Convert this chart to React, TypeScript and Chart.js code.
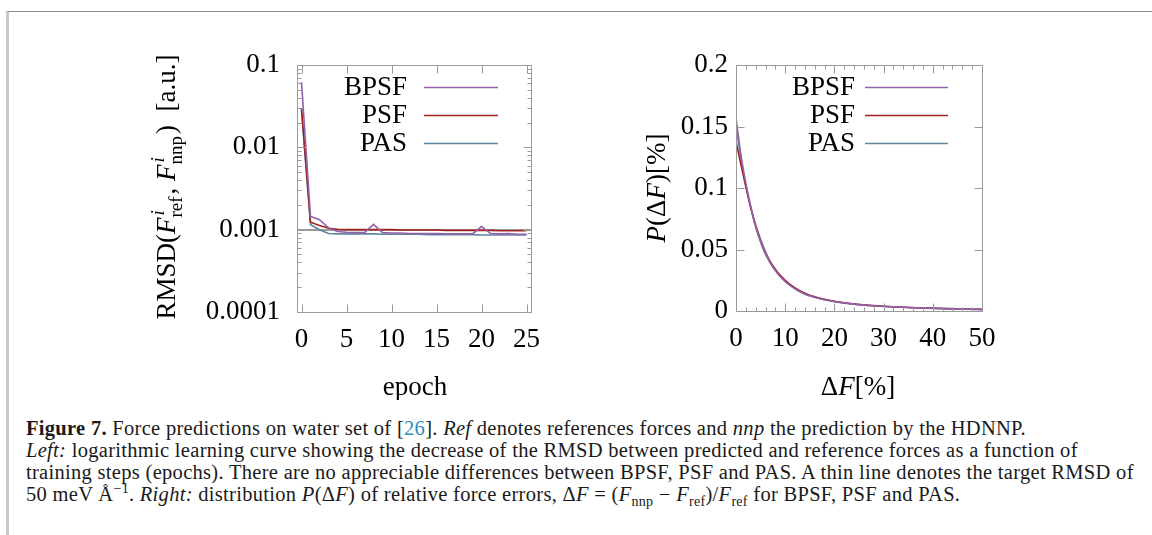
import React, { useEffect, useRef } from 'react';
import { Chart, registerables } from 'chart.js';

Chart.register(...registerables);

// ---------- Data: left panel (learning curve) ----------
const EPOCHS = [0, 1, 2, 3, 4, 5, 6, 7, 8, 9, 10, 11, 12, 13, 14, 15, 16, 17, 18, 19, 20, 21, 22, 23, 24, 25];
const BPSF_RMSD = [0.062, 0.00145, 0.00132, 0.00105, 0.00095, 0.00093, 0.00092, 0.00092, 0.00116, 0.00092, 0.00091, 0.00091, 0.0009, 0.0009, 0.0009, 0.0009, 0.00089, 0.00089, 0.00089, 0.00089, 0.00109, 0.0009, 0.00089, 0.0009, 0.00088, 0.00088];
const PSF_RMSD = [0.03, 0.00123, 0.00112, 0.00104, 0.00101, 0.001, 0.001, 0.001, 0.001, 0.001, 0.001, 0.00099, 0.00099, 0.00099, 0.00099, 0.00099, 0.00098, 0.00098, 0.00098, 0.00098, 0.00098, 0.00098, 0.00097, 0.00097, 0.00097, 0.00097];
const PAS_RMSD = [0.028, 0.00115, 0.001, 0.0009, 0.00089, 0.00089, 0.00089, 0.00089, 0.00089, 0.00088, 0.00088, 0.00088, 0.00088, 0.00088, 0.00087, 0.00087, 0.00087, 0.00087, 0.00087, 0.00087, 0.00086, 0.00086, 0.00086, 0.00086, 0.00086, 0.00086];
const TARGET_RMSD = 0.001;
const LEFT_X_TICKS = [0, 5, 10, 15, 20, 25];
const LEFT_Y_TICKS = [0.0001, 0.001, 0.01, 0.1];
const LEFT_Y_TICK_LABELS = ['0.0001', '0.001', '0.01', '0.1'];

// ---------- Data: right panel (error distribution) ----------
const DF_X = [0, 1, 2, 3, 4, 5, 6, 7, 8, 9, 10, 12, 14, 16, 18, 20, 22, 25, 28, 30, 35, 40, 45, 50];
const BPSF_P = [0.157, 0.127, 0.104, 0.085, 0.069, 0.057, 0.047, 0.039, 0.033, 0.028, 0.024, 0.018, 0.0138, 0.0112, 0.0092, 0.0077, 0.0065, 0.0052, 0.0043, 0.0038, 0.0029, 0.0022, 0.0017, 0.0013];
const PSF_P = [0.138, 0.119, 0.101, 0.084, 0.07, 0.058, 0.048, 0.04, 0.034, 0.029, 0.025, 0.0188, 0.0145, 0.0116, 0.0095, 0.0079, 0.0067, 0.0053, 0.0044, 0.0038, 0.0029, 0.0022, 0.0017, 0.0013];
const PAS_P = [0.151, 0.124, 0.102, 0.084, 0.068, 0.056, 0.046, 0.039, 0.033, 0.028, 0.024, 0.018, 0.0137, 0.0111, 0.0091, 0.0076, 0.0064, 0.0051, 0.0042, 0.0037, 0.0028, 0.0021, 0.0016, 0.0012];
const RIGHT_X_TICKS = [0, 10, 20, 30, 40, 50];
const RIGHT_Y_TICKS = [0, 0.05, 0.1, 0.15, 0.2];
const RIGHT_Y_TICK_LABELS = ['0', '0.05', '0.1', '0.15', '0.2'];

const SERIES_LABELS = ['BPSF', 'PSF', 'PAS'];
const SERIES_COLORS = ['#9560ab', '#a3201f', '#5d879f'];

const FONT = '"Liberation Serif", "Times New Roman", serif';
const FS = 27;
const FRAME = '#9a9a9a';

type Run = { t?: string; it?: boolean; sup?: string; sub?: string; supIt?: boolean };

function drawRuns(ctx: CanvasRenderingContext2D, runs: Run[], cx: number, cy: number, size: number, rot: number) {
  const ss = Math.round(size * 0.7);
  const fm = (it?: boolean) => `${it ? 'italic ' : ''}${size}px ${FONT}`;
  const fs = (it?: boolean) => `${it ? 'italic ' : ''}${ss}px ${FONT}`;
  const widths = runs.map((r) => {
    if (r.t !== undefined) {
      ctx.font = fm(r.it);
      return ctx.measureText(r.t).width;
    }
    ctx.font = fs(r.supIt);
    const a = r.sup ? ctx.measureText(r.sup).width : 0;
    ctx.font = fs(false);
    const b = r.sub ? ctx.measureText(r.sub).width : 0;
    return Math.max(a, b) + 2;
  });
  const total = widths.reduce((a, b) => a + b, 0);
  ctx.save();
  ctx.translate(cx, cy);
  ctx.rotate(rot);
  ctx.fillStyle = '#000';
  ctx.textBaseline = 'alphabetic';
  ctx.textAlign = 'left';
  let x = -total / 2;
  const base = size * 0.33;
  runs.forEach((r, i) => {
    if (r.t !== undefined) {
      ctx.font = fm(r.it);
      ctx.fillText(r.t, x, base);
    } else {
      if (r.sup) {
        ctx.font = fs(r.supIt);
        ctx.fillText(r.sup, x + 2, base - size * 0.42);
      }
      if (r.sub) {
        ctx.font = fs(false);
        ctx.fillText(r.sub, x, base + size * 0.26);
      }
    }
    x += widths[i];
  });
  ctx.restore();
}

type PanelCfg = {
  xMajor: number[];
  xMinorStep: number | null;
  yMajor: number[];
  yLogMinor: boolean;
  target: number | null;
  legendTextRight: number;
  legendLineX: [number, number];
  legendRows: number[];
  xTitle: Run[];
  xTitlePos: [number, number];
  yTitle: Run[];
  yTitlePos: [number, number];
};

function makePanelPlugin(cfg: PanelCfg) {
  return {
    id: 'panelDecor',
    beforeDatasetsDraw(chart: any) {
      if (cfg.target === null) return;
      const { ctx, chartArea } = chart;
      const y = Math.round(chart.scales.y.getPixelForValue(cfg.target));
      ctx.save();
      ctx.strokeStyle = '#9a9a9a';
      ctx.lineWidth = 2;
      ctx.beginPath();
      ctx.moveTo(chartArea.left, y);
      ctx.lineTo(chartArea.right, y);
      ctx.stroke();
      ctx.restore();
    },
    afterDatasetsDraw(chart: any) {
      const { ctx, chartArea } = chart;
      const { left, right, top, bottom } = chartArea;
      const xs = chart.scales.x;
      const ys = chart.scales.y;
      ctx.save();
      ctx.strokeStyle = FRAME;
      ctx.lineWidth = 1;
      const L = Math.round(left) + 0.5;
      const R = Math.round(right) + 0.5;
      const T = Math.round(top) + 0.5;
      const B = Math.round(bottom) + 0.5;
      ctx.beginPath();
      ctx.rect(L, T, R - L, B - T);
      ctx.stroke();
      const xTick = (v: number, len: number) => {
        const p = Math.round(xs.getPixelForValue(v)) + 0.5;
        ctx.moveTo(p, B);
        ctx.lineTo(p, B - len);
        ctx.moveTo(p, T);
        ctx.lineTo(p, T + len);
      };
      const yTick = (v: number, len: number) => {
        const p = Math.round(ys.getPixelForValue(v)) + 0.5;
        ctx.moveTo(L, p);
        ctx.lineTo(L + len, p);
        ctx.moveTo(R, p);
        ctx.lineTo(R - len, p);
      };
      ctx.beginPath();
      cfg.xMajor.forEach((v) => xTick(v, 8));
      if (cfg.xMinorStep) {
        const a = cfg.xMajor[0];
        const b = cfg.xMajor[cfg.xMajor.length - 1];
        for (let v = a; v <= b + 1e-9; v += cfg.xMinorStep) {
          if (!cfg.xMajor.includes(v)) xTick(v, 4);
        }
      }
      cfg.yMajor.forEach((v) => yTick(v, 8));
      if (cfg.yLogMinor) {
        for (let i = 0; i < cfg.yMajor.length - 1; i++) {
          for (let m = 2; m <= 9; m++) yTick(cfg.yMajor[i] * m, 4);
        }
      }
      ctx.stroke();
      ctx.restore();

      // legend
      const metas = chart.data.datasets;
      ctx.save();
      ctx.font = `${FS}px ${FONT}`;
      ctx.textAlign = 'right';
      ctx.textBaseline = 'middle';
      metas.forEach((ds: any, i: number) => {
        const y = cfg.legendRows[i];
        ctx.fillStyle = '#000';
        ctx.fillText(ds.label, cfg.legendTextRight, y + 1);
        ctx.strokeStyle = ds.borderColor;
        ctx.lineWidth = 1.5;
        ctx.beginPath();
        ctx.moveTo(cfg.legendLineX[0], y + 0.5);
        ctx.lineTo(cfg.legendLineX[1], y + 0.5);
        ctx.stroke();
      });
      ctx.restore();

      drawRuns(ctx, cfg.xTitle, cfg.xTitlePos[0], cfg.xTitlePos[1], FS, 0);
      drawRuns(ctx, cfg.yTitle, cfg.yTitlePos[0], cfg.yTitlePos[1], FS, -Math.PI / 2);
    },
  };
}

const CW = 576;
const CH = 400;

function LeftPanel() {
  const ref = useRef<HTMLCanvasElement | null>(null);
  useEffect(() => {
    if (!ref.current) return;
    const series = [BPSF_RMSD, PSF_RMSD, PAS_RMSD];
    const chart = new Chart(ref.current, {
      type: 'line',
      data: {
        datasets: series.map((s, i) => ({
          label: SERIES_LABELS[i],
          data: EPOCHS.map((e, j) => ({ x: e, y: s[j] })),
          borderColor: SERIES_COLORS[i],
          borderWidth: 1.6,
          pointRadius: 0,
          fill: false,
          tension: 0,
        })),
      },
      options: {
        animation: false,
        responsive: false,
        maintainAspectRatio: false,
        layout: { padding: { top: 65, right: CW - 531, left: 0, bottom: 0 } },
        plugins: { legend: { display: false }, tooltip: { enabled: false } },
        scales: {
          x: {
            type: 'linear',
            min: -0.5,
            max: 25.5,
            grid: { display: false, drawTicks: false },
            border: { display: false },
            afterBuildTicks: (s: any) => {
              s.ticks = LEFT_X_TICKS.map((v) => ({ value: v }));
            },
            afterFit: (s: any) => {
              s.height = CH - 312;
            },
            ticks: {
              autoSkip: false,
              maxRotation: 0,
              padding: 12,
              color: '#000',
              font: { family: FONT, size: FS },
              callback: (v: any) => String(v),
            },
          },
          y: {
            type: 'logarithmic',
            min: 0.0001,
            max: 0.1,
            grid: { display: false, drawTicks: false },
            border: { display: false },
            afterBuildTicks: (s: any) => {
              s.ticks = LEFT_Y_TICKS.map((v) => ({ value: v }));
            },
            afterFit: (s: any) => {
              s.width = 297;
            },
            ticks: {
              autoSkip: false,
              padding: 17,
              color: '#000',
              font: { family: FONT, size: FS },
              callback: (_v: any, i: number) => LEFT_Y_TICK_LABELS[i],
            },
          },
        },
      },
      plugins: [
        makePanelPlugin({
          xMajor: LEFT_X_TICKS,
          xMinorStep: null,
          yMajor: LEFT_Y_TICKS,
          yLogMinor: true,
          target: TARGET_RMSD,
          legendTextRight: 407,
          legendLineX: [424, 498],
          legendRows: [87, 115, 143],
          xTitle: [{ t: 'epoch' }],
          xTitlePos: [415, 386],
          yTitle: [
            { t: 'RMSD(' },
            { t: 'F', it: true },
            { sup: 'i', supIt: true, sub: 'ref' },
            { t: ', ' },
            { t: 'F', it: true },
            { sup: 'i', supIt: true, sub: 'nnp' },
            { t: ')  [a.u.]' },
          ],
          yTitlePos: [166, 187],
        }),
      ],
    } as any);
    return () => chart.destroy();
  }, []);
  return <canvas ref={ref} width={CW} height={CH} style={{ position: 'absolute', left: 0, top: 0, width: CW, height: CH }} />;
}

function RightPanel() {
  const ref = useRef<HTMLCanvasElement | null>(null);
  useEffect(() => {
    if (!ref.current) return;
    const series = [BPSF_P, PSF_P, PAS_P];
    const chart = new Chart(ref.current, {
      type: 'line',
      data: {
        datasets: series.map((s, i) => ({
          label: SERIES_LABELS[i],
          data: DF_X.map((x, j) => ({ x, y: s[j] })),
          borderColor: SERIES_COLORS[i],
          borderWidth: 1.6,
          pointRadius: 0,
          fill: false,
          cubicInterpolationMode: 'monotone',
        })),
      },
      options: {
        animation: false,
        responsive: false,
        maintainAspectRatio: false,
        layout: { padding: { top: 65, right: CW - 406, left: 0, bottom: 0 } },
        plugins: { legend: { display: false }, tooltip: { enabled: false } },
        scales: {
          x: {
            type: 'linear',
            min: 0,
            max: 50,
            grid: { display: false, drawTicks: false },
            border: { display: false },
            afterBuildTicks: (s: any) => {
              s.ticks = RIGHT_X_TICKS.map((v) => ({ value: v }));
            },
            afterFit: (s: any) => {
              s.height = CH - 311;
            },
            ticks: {
              autoSkip: false,
              maxRotation: 0,
              padding: 12,
              color: '#000',
              font: { family: FONT, size: FS },
              callback: (v: any) => String(v),
            },
          },
          y: {
            type: 'linear',
            min: 0,
            max: 0.2,
            grid: { display: false, drawTicks: false },
            border: { display: false },
            afterBuildTicks: (s: any) => {
              s.ticks = RIGHT_Y_TICKS.map((v) => ({ value: v }));
            },
            afterFit: (s: any) => {
              s.width = 160;
            },
            ticks: {
              autoSkip: false,
              padding: 8,
              color: '#000',
              font: { family: FONT, size: FS },
              callback: (_v: any, i: number) => RIGHT_Y_TICK_LABELS[i],
            },
          },
        },
      },
      plugins: [
        makePanelPlugin({
          xMajor: RIGHT_X_TICKS,
          xMinorStep: 2,
          yMajor: RIGHT_Y_TICKS,
          yLogMinor: false,
          target: null,
          legendTextRight: 279,
          legendLineX: [289, 372],
          legendRows: [87, 115, 143],
          xTitle: [{ t: 'Δ' }, { t: 'F', it: true }, { t: '[%]' }],
          xTitlePos: [282, 386],
          yTitle: [{ t: 'P', it: true }, { t: '(Δ' }, { t: 'F', it: true }, { t: ')[%]' }],
          yTitlePos: [80, 188],
        }),
      ],
    } as any);
    return () => chart.destroy();
  }, []);
  return <canvas ref={ref} width={CW} height={CH} style={{ position: 'absolute', left: CW, top: 0, width: CW, height: CH }} />;
}

const supStyle: React.CSSProperties = { fontSize: '14px', position: 'relative', top: '-8px', lineHeight: 0 };
const subStyle: React.CSSProperties = { fontSize: '14px', position: 'relative', top: '5px', lineHeight: 0 };

export default function App() {
  return (
    <div style={{ position: 'absolute', left: 0, top: 0, width: 1152, height: 535, overflow: 'hidden', background: '#fff' }}>
      <div
        style={{
          position: 'absolute',
          left: 6,
          top: 11,
          width: 1146,
          height: 524,
          borderTop: '1px solid #8c8c8c',
          borderLeft: '3px solid #c9c9c9',
          boxSizing: 'border-box',
        }}
      />
      <LeftPanel />
      <RightPanel />
      <div
        style={{
          position: 'absolute',
          left: 26,
          top: 417,
          font: `20.5px ${FONT}`,
          letterSpacing: '0.3px',
          lineHeight: '22px',
          whiteSpace: 'nowrap',
          color: '#1a1a1a',
        }}
      >
        <b>Figure 7.</b> Force predictions on water set of [<span style={{ color: '#2a8cc2' }}>26</span>]. <i>Ref</i> denotes references forces and <i>nnp</i> the prediction by the HDNNP.
        <br />
        <i>Left:</i> logarithmic learning curve showing the decrease of the RMSD between predicted and reference forces as a function of
        <br />
        training steps (epochs). There are no appreciable differences between BPSF, PSF and PAS. A thin line denotes the target RMSD of
        <br />
        50 meV Å<span style={supStyle}>−1</span>. <i>Right:</i> distribution <i>P</i>(Δ<i>F</i>) of relative force errors, Δ<i>F</i> = (<i>F</i>
        <span style={subStyle}>nnp</span> − <i>F</i>
        <span style={subStyle}>ref</span>)/<i>F</i>
        <span style={subStyle}>ref</span> for BPSF, PSF and PAS.
      </div>
    </div>
  );
}
